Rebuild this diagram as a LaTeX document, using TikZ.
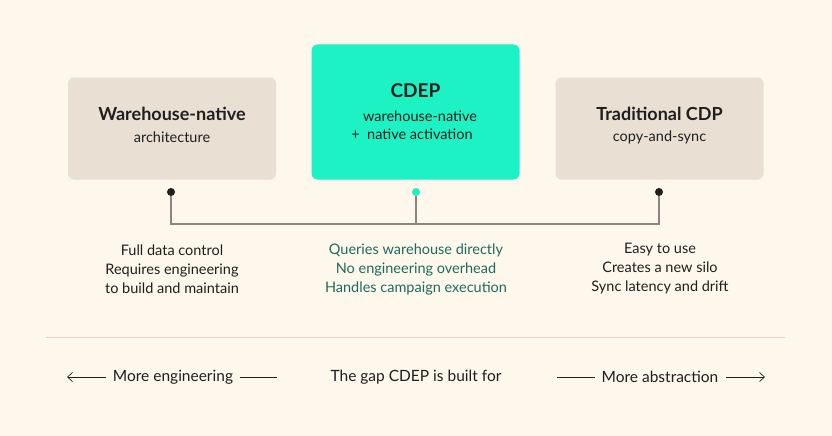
\documentclass[tikz,border=0pt]{standalone}
\usepackage{fontspec}
\usetikzlibrary{arrows.meta}
\setmainfont{Lato}
\definecolor{bg}{HTML}{FDF7EC}
\definecolor{beige}{HTML}{E9E0D3}
\definecolor{mint}{HTML}{1DF2C5}
\definecolor{ink}{HTML}{1F1F1F}
\definecolor{tealtxt}{HTML}{1E6B5E}
\definecolor{conn}{HTML}{8A8580}
\definecolor{sep}{HTML}{DDD5C8}
\begin{document}
\begin{tikzpicture}[x=1pt,y=-1pt,
  box/.style={rounded corners=6pt,inner sep=0pt,minimum width=208pt},
  ttl/.style={font=\fontsize{18}{20}\selectfont\bfseries,text=ink},
  sub/.style={font=\fontsize{14.5}{17}\selectfont,text=ink},
  lst/.style={font=\fontsize{14.5}{19}\selectfont,align=center,text=ink},
  dot/.style={circle,inner sep=0pt,minimum size=8pt},
  ln/.style={draw=conn,line width=1.2pt},
  gap/.style={draw=ink,line width=0.7pt},
  tip/.style={-{Straight Barb[length=5pt,width=9pt,line width=0.7pt]}}]
\fill[bg] (0,0) rectangle (832,436);
\useasboundingbox (0,0) rectangle (832,436);
\node[box,fill=beige,minimum height=102pt] (L) at (172,128.5) {};
\node[box,fill=mint,minimum height=135pt] (C) at (415.5,112) {};
\node[box,fill=beige,minimum height=102pt] (R) at (659.5,128.5) {};
\node[ttl] (Lt) at (172,114) {Warehouse-native};
\node[sub] (Ls) at (172,137) {architecture};
\node[ttl,font=\fontsize{19}{20}\selectfont\bfseries] (Ct) at (415.5,91) {CDEP};
\node[sub] (Cs1) at (420,116) {warehouse-native};
\node[sub] (Cs2) at (412,134) {+\ \ native activation};
\node[ttl] (Rt) at (659.5,114) {Traditional CDP};
\node[sub] (Rs) at (659.5,137) {copy-and-sync};
\node[dot,fill=ink] (d1) at (171,192) {};
\node[dot,fill=mint] (d2) at (416,192) {};
\node[dot,fill=ink] (d3) at (659,192) {};
\coordinate (b1) at (171,224);
\coordinate (b2) at (416,224);
\coordinate (b3) at (659,224);
\draw[ln] (d1) -- (b1) -- (b3) -- (d3);
\draw[ln] (d2) -- (b2);
\node[lst] (l1) at (172,269) {Full data control\\Requires engineering\\to build and maintain};
\node[lst,text=tealtxt] (l2) at (416,269) {Queries warehouse directly\\No engineering overhead\\Handles campaign execution};
\node[lst] (l3) at (660,269) {Easy to use\\Creates a new silo\\Sync latency and drift};
\draw[sep,line width=1pt] (46,337) -- (785,337);
\node[sub,font=\fontsize{15.5}{17}\selectfont] (g1) at (173,377) {More engineering};
\node[sub,font=\fontsize{15.5}{17}\selectfont] (g2) at (416,377) {The gap CDEP is built for};
\node[sub,font=\fontsize{15.5}{17}\selectfont] (g3) at (660,377) {More abstraction};
\coordinate (a1) at (67,377); \coordinate (a2) at (106,377);
\coordinate (a3) at (240,377); \coordinate (a4) at (277,377);
\coordinate (a5) at (557,377); \coordinate (a6) at (595,377);
\coordinate (a7) at (726,377); \coordinate (a8) at (765,377);
\draw[gap,tip] (a2) -- (a1);
\draw[gap] (a3) -- (a4);
\draw[gap] (a5) -- (a6);
\draw[gap,tip] (a7) -- (a8);
\end{tikzpicture}
\end{document}
